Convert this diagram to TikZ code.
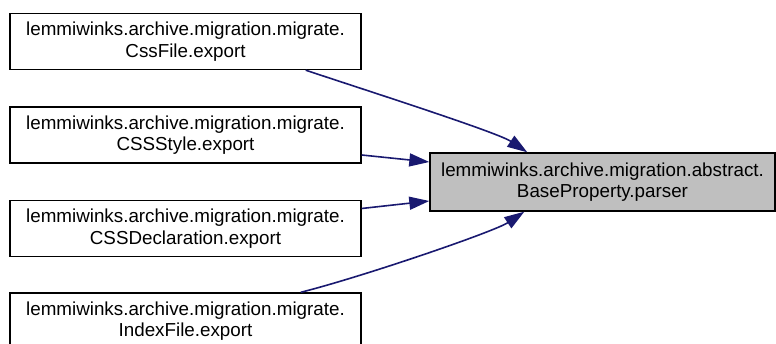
\documentclass[tikz,border=0pt]{standalone}
\usepackage{fontspec}
\setmainfont{Liberation Sans}
\usetikzlibrary{arrows.meta}
\definecolor{edgecol}{HTML}{191970}
\definecolor{hilite}{HTML}{BFBFBF}
\begin{document}
\begin{tikzpicture}[x=1pt,y=-1pt,
  box/.style={draw=black, line width=1.4pt, minimum width=351pt, minimum height=56pt,
    inner sep=0pt, align=center, font=\fontsize{18.8}{21.5}\selectfont},
  edgeline/.style={draw=edgecol, line width=1.6pt, -{Triangle[length=20pt,width=13pt]}}]
\useasboundingbox (0,0) rectangle (776,344);
\node[box] (b1) at (185.5,41.5) {lemmiwinks.archive.migration.migrate.\\CssFile.export};
\node[box] (b2) at (185.5,135) {lemmiwinks.archive.migration.migrate.\\CSSStyle.export};
\node[box] (b3) at (185.5,228.5) {lemmiwinks.archive.migration.migrate.\\CSSDeclaration.export};
\node[box] (b4) at (185.5,321) {lemmiwinks.archive.migration.migrate.\\IndexFile.export};
\node[box, fill=hilite, minimum width=345pt, minimum height=58pt] (t) at (602.5,182)
  {lemmiwinks.archive.migration.abstract.\\BaseProperty.parser};
\draw[edgeline] ([xshift=-56pt]b1.south east) .. controls +(60,20) and +(-30,-20) .. ([xshift=98pt]t.north west);
\draw[edgeline] ([yshift=-20pt]b2.east) -- ([yshift=20pt]t.west);
\draw[edgeline] ([yshift=20pt]b3.east) -- ([yshift=-19pt]t.west);
\draw[edgeline] ([xshift=-61pt]b4.north east) .. controls +(60,-15) and +(-30,20) .. ([xshift=95pt]t.south west);
\end{tikzpicture}
\end{document}
